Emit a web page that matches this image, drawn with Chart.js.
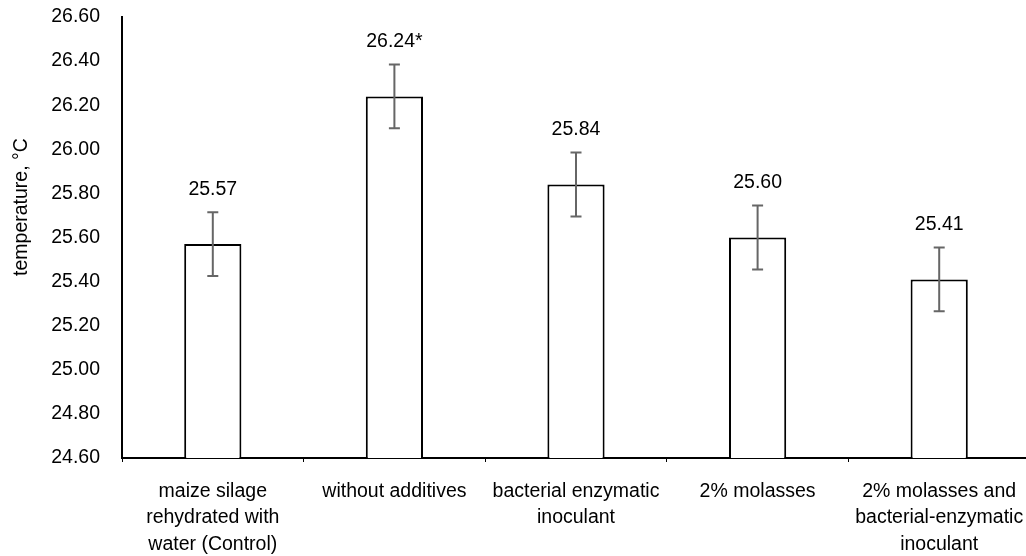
<!DOCTYPE html>
<html><head><meta charset="utf-8">
<script src="https://cdn.jsdelivr.net/npm/chart.js@4.4.1/dist/chart.umd.min.js"></script>
<style>
html,body{margin:0;padding:0;background:#fff;overflow:hidden;width:1026px;height:556px}
#wrap{position:relative;width:1030px;height:556px}
</style></head>
<body><div id="wrap"><canvas id="c"></canvas></div>
<script>
const categories = [
  ["maize silage", "rehydrated with", "water (Control)"],
  "without additives",
  ["bacterial enzymatic", "inoculant"],
  "2% molasses",
  ["2% molasses and", "bacterial-enzymatic", "inoculant"]
];
const values = [25.57, 26.24, 25.84, 25.60, 25.41];
const errors = [0.145, 0.145, 0.145, 0.145, 0.145];
const marks = ["", "*", "", "", ""];
const yMin = 24.6, yMax = 26.6, yStep = 0.2;
const yTitle = "temperature, \u00B0C";

const FAMILY = "'Liberation Sans',Arial,Helvetica,sans-serif";
const FS = 19.5;

const extras = {
  id: 'extras',
  afterDatasetsDraw(chart) {
    const {ctx, scales: {y}} = chart;
    const meta = chart.getDatasetMeta(0);
    ctx.save();
    ctx.strokeStyle = '#666';
    ctx.lineWidth = 2;
    meta.data.forEach((bar, i) => {
      const x = bar.x;
      const yt = y.getPixelForValue(values[i] + errors[i]);
      const yb = y.getPixelForValue(values[i] - errors[i]);
      ctx.beginPath();
      ctx.moveTo(x, yt); ctx.lineTo(x, yb);
      ctx.moveTo(x - 5.5, yt); ctx.lineTo(x + 5.5, yt);
      ctx.moveTo(x - 5.5, yb); ctx.lineTo(x + 5.5, yb);
      ctx.stroke();
      ctx.fillStyle = '#000';
      ctx.font = FS + 'px ' + FAMILY;
      ctx.textAlign = 'center';
      ctx.textBaseline = 'middle';
      ctx.fillText(values[i].toFixed(2) + marks[i], x, yt - 23);
    });
    ctx.restore();
  },
  afterDraw(chart) {
    const ctx = chart.ctx;
    ctx.save();
    ctx.translate(22, 207);
    ctx.rotate(-Math.PI / 2);
    ctx.fillStyle = '#000';
    ctx.font = "19.5px " + FAMILY;
    ctx.textAlign = 'center';
    ctx.textBaseline = 'middle';
    ctx.fillText(yTitle, 0, 0);
    ctx.restore();
  }
};

function noPad(s) { s.paddingLeft = 0; s.paddingRight = 0; s.paddingTop = 0; s.paddingBottom = 0; }

new Chart(document.getElementById('c'), {
  type: 'bar',
  data: {
    labels: categories,
    datasets: [{
      data: values,
      backgroundColor: '#fff',
      borderColor: '#000',
      borderWidth: 2,
      barPercentage: 0.315,
      categoryPercentage: 1
    }]
  },
  options: {
    responsive: true,
    maintainAspectRatio: false,
    animation: false,
    layout: {padding: {top: 17, left: 0, right: 0, bottom: 0}},
    plugins: {legend: {display: false}, tooltip: {enabled: false}},
    scales: {
      x: {
        offset: true,
        grid: {display: true, drawOnChartArea: false, drawTicks: true, tickLength: 4, color: '#000', lineWidth: 1, offset: true},
        border: {display: true, color: '#000', width: 2},
        ticks: {color: '#000', padding: 16, maxRotation: 0, autoSkip: false,
          font: {family: FAMILY, size: FS, lineHeight: 1.37}},
        afterFit(s) { s.height = 98; noPad(s); }
      },
      y: {
        min: yMin, max: yMax,
        grid: {display: false, drawTicks: false},
        border: {display: true, color: '#000', width: 2},
        ticks: {stepSize: yStep, color: '#000', padding: 22,
          font: {family: FAMILY, size: FS},
          callback: v => Number(v).toFixed(2)},
        afterFit(s) { s.width = 122; noPad(s); }
      }
    }
  },
  plugins: [extras]
});
</script>
</body></html>
